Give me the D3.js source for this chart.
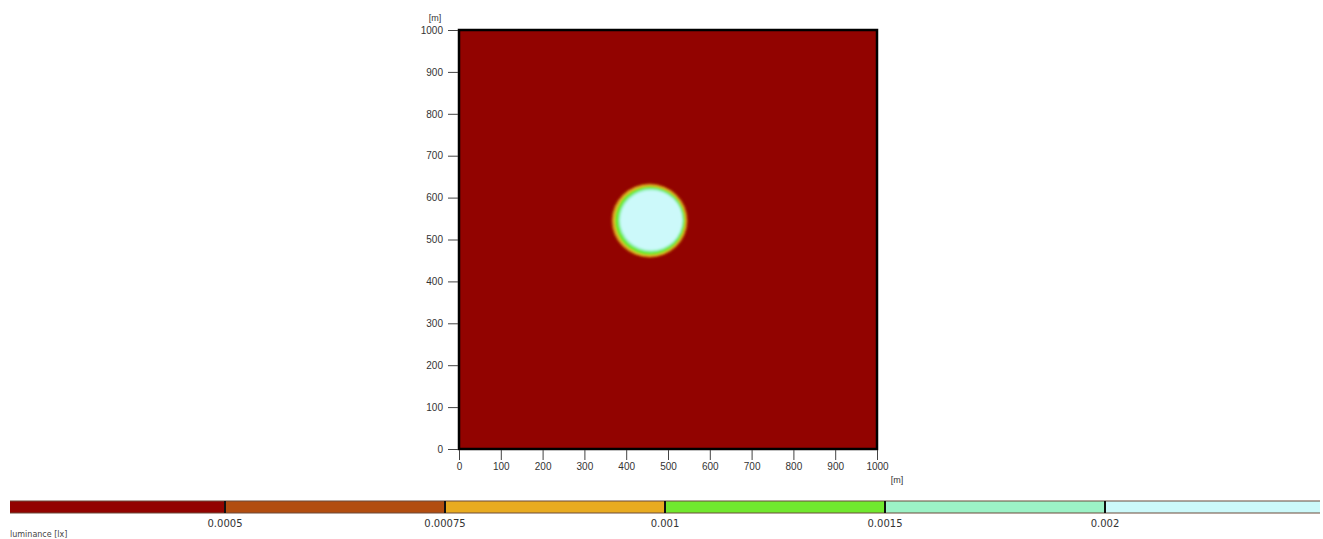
<!DOCTYPE html>
<html>
<head>
<meta charset="utf-8">
<script src="https://cdn.jsdelivr.net/npm/d3@7.9.0/dist/d3.min.js"></script>
<style>
  body { margin: 0; background: #fff; }
  svg { display: block; }
  .axis text { font-family: "Liberation Sans", Arial, sans-serif; font-size: 10px; fill: #333; }
  .axis path { display: none; }
  .axis line { stroke: #444; }
</style>
</head>
<body>
<svg id="chart" width="1323" height="539"></svg>
<script>
// ====== DATA ======
const thresholds = [0.0005, 0.00075, 0.001, 0.0015, 0.002];
const colors = ["#920300", "#b24d10", "#e8ab20", "#70e82e", "#9cf2c6", "#ccf9fa"];
const legendLabels = ["0.0005", "0.00075", "0.001", "0.0015", "0.002"];

// iso-luminance bands of the bright spot (outer edge of each level), in metres
const bandLevels = [0.0005, 0.00075, 0.001, 0.0015, 0.002];
const bandCx = [456, 456, 457, 459, 460];
const bandCy = [545, 545, 545, 546, 546];
const bandRx = [92, 88, 84, 77, 74];
const bandRy = [89, 86, 82, 75, 71];

const svg = d3.select("#chart");

// ====== SCALES ======
const x = d3.scaleLinear().domain([0, 1000]).range([459, 877]);
const y = d3.scaleLinear().domain([0, 1000]).range([449, 30]);
const color = d3.scaleThreshold().domain(thresholds).range(colors);

// ====== PLOT ======
svg.append("defs").call(defs => {
  defs.append("clipPath").attr("id", "plotClip")
    .append("rect")
    .attr("x", x(0)).attr("y", y(1000))
    .attr("width", x(1000) - x(0)).attr("height", y(0) - y(1000));
  defs.append("filter").attr("id", "soft")
    .append("feGaussianBlur").attr("stdDeviation", 0.8);
});

const plot = svg.append("g").attr("clip-path", "url(#plotClip)");
plot.append("rect")
  .attr("x", x(0)).attr("y", y(1000))
  .attr("width", x(1000) - x(0)).attr("height", y(0) - y(1000))
  .attr("fill", color(0));

plot.append("g").attr("filter", "url(#soft)")
  .selectAll("ellipse")
  .data(bandLevels)
  .join("ellipse")
  .attr("cx", (d, i) => x(bandCx[i]))
  .attr("cy", (d, i) => y(bandCy[i]))
  .attr("rx", (d, i) => x(bandRx[i]) - x(0))
  .attr("ry", (d, i) => y(0) - y(bandRy[i]))
  .attr("fill", d => color(d));

// frame
svg.append("rect")
  .attr("x", x(0)).attr("y", y(1000))
  .attr("width", x(1000) - x(0)).attr("height", y(0) - y(1000))
  .attr("fill", "none").attr("stroke", "#000").attr("stroke-width", 2.5);

// ====== AXES ======
svg.append("g").attr("class", "axis")
  .attr("transform", `translate(0,${y(0) + 1})`)
  .call(d3.axisBottom(x).ticks(10).tickFormat(d3.format("d")).tickSize(10).tickPadding(3));

svg.append("g").attr("class", "axis")
  .attr("transform", `translate(${x(0) - 1},0)`)
  .call(d3.axisLeft(y).ticks(10).tickFormat(d3.format("d")).tickSize(10).tickPadding(5));

svg.append("text").attr("x", 435).attr("y", 21)
  .attr("text-anchor", "middle")
  .style("font", "9px 'Liberation Sans', Arial, sans-serif").style("fill", "#333")
  .text("[m]");
svg.append("text").attr("x", 897).attr("y", 483)
  .attr("text-anchor", "middle")
  .style("font", "9px 'Liberation Sans', Arial, sans-serif").style("fill", "#333")
  .text("[m]");

// ====== LEGEND ======
const lx = d3.scaleLinear().domain([0, colors.length]).range([5, 1325]);
const legend = svg.append("g");
svg.select("defs").append("clipPath").attr("id", "legClip")
  .append("rect").attr("x", 10).attr("y", 495).attr("width", 1310).attr("height", 25);

const bar = legend.append("g").attr("clip-path", "url(#legClip)");
bar.selectAll("rect")
  .data(colors)
  .join("rect")
  .attr("x", (d, i) => lx(i))
  .attr("y", 501)
  .attr("width", lx(1) - lx(0))
  .attr("height", 12)
  .attr("fill", d => d);
bar.append("rect")
  .attr("x", lx(0)).attr("y", 501)
  .attr("width", lx(colors.length) - lx(0)).attr("height", 12)
  .attr("fill", "none").attr("stroke", "#6b4a3a").attr("stroke-width", 1);
bar.selectAll("line")
  .data(thresholds)
  .join("line")
  .attr("x1", (d, i) => lx(i + 1)).attr("x2", (d, i) => lx(i + 1))
  .attr("y1", 501).attr("y2", 513)
  .attr("stroke", "#111").attr("stroke-width", 2);

legend.selectAll("text.lab")
  .data(legendLabels)
  .join("text")
  .attr("class", "lab")
  .attr("x", (d, i) => lx(i + 1))
  .attr("y", 527)
  .attr("text-anchor", "middle")
  .style("font", "10px 'DejaVu Sans', Verdana, sans-serif").style("fill", "#333")
  .text(d => d);

legend.append("text")
  .attr("x", 10).attr("y", 537)
  .style("font", "8px 'DejaVu Sans', Verdana, sans-serif").style("fill", "#444")
  .text("luminance [lx]");
</script>
</body>
</html>
